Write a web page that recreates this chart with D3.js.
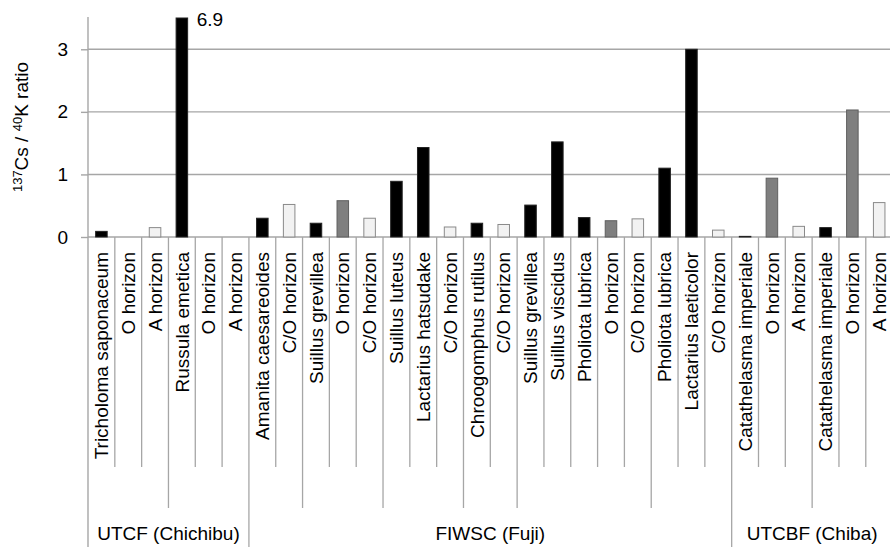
<!DOCTYPE html>
<html>
<head>
<meta charset="utf-8">
<script src="https://cdn.jsdelivr.net/npm/d3@7"></script>
<style>
  html, body { margin: 0; padding: 0; background: #fff; }
  svg { display: block; font-family: "Liberation Sans", Arial, sans-serif; }
</style>
</head>
<body>
<div class="chart"></div>
<script>
const categories = [
  'Tricholoma saponaceum', 'O horizon', 'A horizon',
  'Russula emetica', 'O horizon', 'A horizon',
  'Amanita caesareoides', 'C/O horizon',
  'Suillus grevillea', 'O horizon', 'C/O horizon',
  'Suillus luteus', 'Lactarius hatsudake', 'C/O horizon',
  'Chroogomphus rutilus', 'C/O horizon',
  'Suillus grevillea', 'Suillus viscidus', 'Pholiota lubrica', 'O horizon', 'C/O horizon',
  'Pholiota lubrica', 'Lactarius laeticolor', 'C/O horizon',
  'Catathelasma imperiale', 'O horizon', 'A horizon',
  'Catathelasma imperiale', 'O horizon', 'A horizon'
];
const values = [
  0.09, 0, 0.15,
  6.9, 0, 0,
  0.3, 0.52,
  0.22, 0.58, 0.3,
  0.89, 1.43, 0.16,
  0.22, 0.2,
  0.51, 1.52, 0.31, 0.26, 0.29,
  1.1, 3.0, 0.11,
  0.01, 0.94, 0.17,
  0.15, 2.03, 0.55
];
// second level of the category axis (no labels, only separators)
const groupSizes = [3, 3, 2, 3, 3, 2, 5, 3, 3, 3];
const sites = ['UTCF (Chichibu)', 'FIWSC (Fuji)', 'UTCBF (Chiba)'];
const siteSizes = [6, 18, 6];
const yTicks = [0, 1, 2, 3];
const yMax = 3.5;

const width = 890;
const height = 547;
const left = 88;
const step = 26.82;
const grey = '#a6a6a6';

const svg = d3.select('.chart')
  .append('svg')
  .attr('width', width)
  .attr('height', height);

const idx = d3.range(categories.length);

const x = d3.scaleBand()
  .domain(idx)
  .range([left, left + step * categories.length])
  .paddingInner(0.57)
  .paddingOuter(0.285);

const y = d3.scaleLinear()
  .domain([0, yMax])
  .range([237, 18])
  .clamp(true);

// grid lines
svg.append('g')
  .selectAll('line')
  .data(yTicks)
  .enter()
  .append('line')
  .attr('x1', left)
  .attr('x2', width)
  .attr('y1', (d) => y(d))
  .attr('y2', (d) => y(d))
  .attr('stroke', grey)
  .attr('stroke-width', 1.4);

// y axis
const yAxis = svg.append('g')
  .attr('transform', 'translate(' + left + ',0)')
  .call(d3.axisLeft(y).tickValues(yTicks).tickFormat(d3.format('d')).tickSize(7).tickPadding(13));
yAxis.select('.domain').remove();
yAxis.selectAll('.tick line').attr('stroke', grey).attr('stroke-width', 1.4);
yAxis.selectAll('.tick text')
  .attr('font-size', 19)
  .attr('fill', '#000')
  .style('font-family', '"Liberation Sans", Arial, sans-serif');

svg.append('line')
  .attr('x1', left).attr('x2', left)
  .attr('y1', y(yMax) - 1).attr('y2', height)
  .attr('stroke', grey)
  .attr('stroke-width', 1.4);

// category boundaries, three depths
const siteEdges = new Set(d3.cumsum(siteSizes));
const groupEdges = new Set(d3.cumsum(groupSizes));
svg.append('g')
  .selectAll('line')
  .data(d3.range(1, categories.length + 1))
  .enter()
  .append('line')
  .attr('x1', (k) => x(0) - x.step() * x.paddingOuter() + k * x.step())
  .attr('x2', (k) => x(0) - x.step() * x.paddingOuter() + k * x.step())
  .attr('y1', y(0))
  .attr('y2', (k) => siteEdges.has(k) ? height : (groupEdges.has(k) ? 508 : 467))
  .attr('stroke', grey)
  .attr('stroke-width', 1.3);

// bars
const fillFor = (name) => name === 'O horizon' ? '#7f7f7f' : (name.includes('horizon') ? '#f2f2f2' : '#000');
const strokeFor = (name) => name === 'O horizon' ? '#5f5f5f' : (name.includes('horizon') ? '#8a8a8a' : '#222');

svg.append('g')
  .selectAll('rect')
  .data(idx.filter((i) => values[i] > 0))
  .enter()
  .append('rect')
  .attr('x', (i) => x(i))
  .attr('width', x.bandwidth())
  .attr('y', (i) => y(values[i]))
  .attr('height', (i) => y(0) - y(values[i]))
  .attr('fill', (i) => fillFor(categories[i]))
  .attr('stroke', (i) => strokeFor(categories[i]))
  .attr('stroke-width', 1);

// value label for the clipped bar
idx.filter((i) => values[i] > yMax).forEach((i) => {
  svg.append('text')
    .attr('x', x(i) + x.bandwidth() + 9)
    .attr('y', y(yMax) + 8)
    .attr('font-size', 19)
    .text(values[i]);
});

// category labels
svg.append('g')
  .selectAll('text')
  .data(idx)
  .enter()
  .append('text')
  .attr('transform', (i) => 'translate(' + (x(i) + x.bandwidth() / 2) + ',252) rotate(-90)')
  .attr('text-anchor', 'end')
  .attr('dy', '0.35em')
  .attr('font-size', 19)
  .text((i) => categories[i]);

// site labels
const siteStarts = [0, ...d3.cumsum(siteSizes)];
svg.append('g')
  .selectAll('text')
  .data(sites)
  .enter()
  .append('text')
  .attr('x', (d, j) => left + step * (siteStarts[j] + siteSizes[j] / 2))
  .attr('y', 540)
  .attr('text-anchor', 'middle')
  .attr('font-size', 19)
  .text((d) => d);

// y axis title
const title = svg.append('text')
  .attr('transform', 'translate(28,127) rotate(-90)')
  .attr('text-anchor', 'middle')
  .attr('font-size', 19);
title.append('tspan').attr('font-size', 13).attr('dy', -6).text('137');
title.append('tspan').attr('dy', 6).text('Cs / ');
title.append('tspan').attr('font-size', 13).attr('dy', -6).text('40');
title.append('tspan').attr('dy', 6).text('K ratio');
</script>
</body>
</html>
